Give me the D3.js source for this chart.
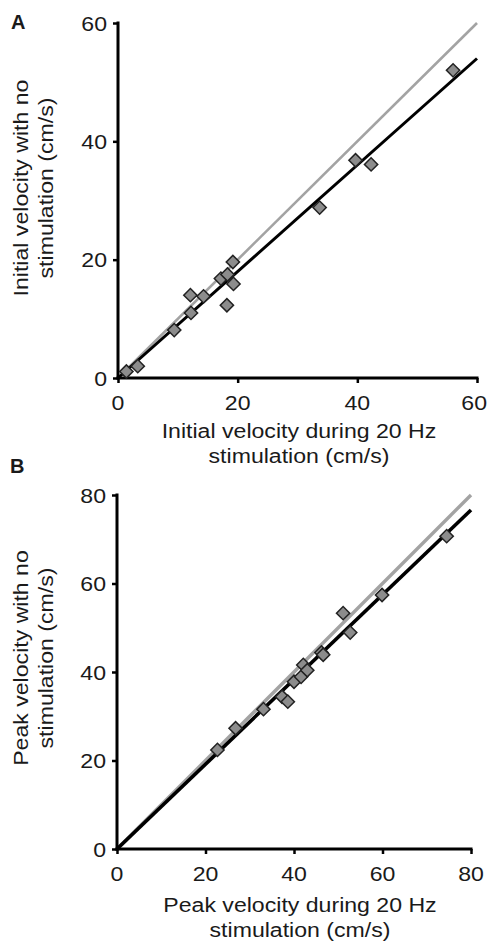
<!DOCTYPE html>
<html>
<head>
<meta charset="utf-8">
<script src="https://cdn.jsdelivr.net/npm/d3@7"></script>
<style>
  html, body { margin: 0; padding: 0; background: #fff; }
  svg { display: block; }
  text { font-family: "Liberation Sans", Arial, sans-serif; fill: #1a1a1a; }
</style>
</head>
<body>
<svg id="chart" width="488" height="943"></svg>
<script>
// ---------- Data ----------
// Panel A: initial velocity (cm/s)
const initialDuring20Hz = [1.4, 3.3, 9.4, 12.2, 12.1, 14.3, 17.2, 18.3, 19.2, 19.3, 18.2, 33.7, 39.7, 42.3, 56.0];
const initialNoStim     = [1.1, 2.0, 8.1, 11.0, 14.0, 13.8, 16.8, 17.5, 19.6, 15.9, 12.3, 28.8, 36.8, 36.1, 52.0];
const initialFit   = [[0, 0], [60, 54.0]];
const initialUnity = [[0, 0], [60, 60]];
const initialTicks = [0, 20, 40, 60];

// Panel B: peak velocity (cm/s)
const peakDuring20Hz = [22.7, 26.8, 33.1, 37.3, 38.6, 40.0, 41.6, 42.1, 43.0, 46.2, 46.6, 51.1, 52.7, 59.9, 74.5];
const peakNoStim     = [22.4, 27.3, 31.6, 34.4, 33.3, 37.8, 38.9, 41.6, 40.4, 44.4, 43.9, 53.3, 48.9, 57.4, 70.7];
const peakFit   = [[0, 0], [80, 76.6]];
const peakUnity = [[0, 0], [80, 80]];
const peakTicks = [0, 20, 40, 60, 80];

const panels = [
  {
    letter: "A", letterPos: [11, 29],
    xs: initialDuring20Hz, ys: initialNoStim, fit: initialFit, unity: initialUnity,
    ticks: initialTicks, max: 60,
    xRange: [118, 477], yRange: [378, 23],
    xTitle: ["Initial velocity during 20 Hz", "stimulation (cm/s)"], xTitlePos: [299, 438],
    yTitle: ["Initial velocity with no", "stimulation (cm/s)"], yTitlePos: [28, 188],
    lineW: 3, unityW: 2.6
  },
  {
    letter: "B", letterPos: [10, 473],
    xs: peakDuring20Hz, ys: peakNoStim, fit: peakFit, unity: peakUnity,
    ticks: peakTicks, max: 80,
    xRange: [117, 471], yRange: [849, 495],
    xTitle: ["Peak velocity during 20 Hz", "stimulation (cm/s)"], xTitlePos: [300, 912],
    yTitle: ["Peak velocity with no", "stimulation (cm/s)"], yTitlePos: [28, 658],
    lineW: 3.6, unityW: 3.4
  }
];

const W = 488;
const svg = d3.select("#chart");
const FS = 21, STRETCH = 1.1, LINE = 24.5;

function label(g, str, x, y, rot, anchor, opts = {}) {
  return g.append("text")
    .attr("transform", `translate(${x},${y}) rotate(${rot}) scale(${STRETCH},1)`)
    .attr("text-anchor", anchor)
    .attr("font-size", opts.size || FS)
    .attr("font-weight", opts.weight || "normal")
    .attr("dy", opts.dy || 0)
    .text(str);
}

panels.forEach(p => {
  const g = svg.append("g");
  const x = d3.scaleLinear().domain([0, p.max]).range(p.xRange);
  const y = d3.scaleLinear().domain([0, p.max]).range(p.yRange);

  // reference lines
  const line = d3.line().x(d => x(d[0])).y(d => y(d[1]));
  g.append("path").datum(p.unity).attr("d", line)
    .attr("stroke", "#a3a3a3").attr("stroke-width", p.unityW).attr("fill", "none");
  g.append("path").datum(p.fit).attr("d", line)
    .attr("stroke", "#000").attr("stroke-width", p.lineW).attr("fill", "none");

  // axes (ticks from d3 axes)
  const xAxis = d3.axisBottom(x).tickValues(p.ticks).tickSize(5).tickPadding(0).tickFormat(d3.format("d"));
  const yAxis = d3.axisLeft(y).tickValues(p.ticks).tickSize(5).tickPadding(0).tickFormat(d3.format("d"));

  const gx = g.append("g").attr("transform", `translate(0,${p.yRange[0]})`).call(xAxis);
  const gy = g.append("g").attr("transform", `translate(${p.xRange[0]},0)`).call(yAxis);
  [gx, gy].forEach(a => {
    a.select(".domain").remove();
    a.selectAll(".tick line").attr("stroke", "#000").attr("stroke-width", 2.5);
    a.selectAll(".tick text").remove();
  });
  // axis lines
  g.append("line").attr("x1", x(0) - 1.5).attr("x2", x(p.max) + 1.5)
    .attr("y1", y(0)).attr("y2", y(0)).attr("stroke", "#000").attr("stroke-width", 3);
  g.append("line").attr("x1", x(0)).attr("x2", x(0))
    .attr("y1", y(0) + 1.5).attr("y2", y(p.max) - 1.5).attr("stroke", "#000").attr("stroke-width", 3);

  // tick labels (slightly wide lettering like the original)
  p.ticks.forEach(t => {
    const s = d3.format("d")(t);
    const half = s.length * 0.556 * FS * STRETCH / 2;
    const cx = Math.min(x(t), W - 1 - half);
    label(g, s, cx, y(0) + 32, 0, "middle");
    label(g, s, x(0) - 11, y(t), 0, "end", { dy: "0.36em" });
  });

  // points (diamonds)
  const diamond = d3.symbol().type(d3.symbolSquare).size(88);
  g.selectAll("path.pt").data(p.xs.map((v, i) => [v, p.ys[i]])).enter()
    .append("path").attr("class", "pt")
    .attr("d", diamond)
    .attr("transform", d => `translate(${x(d[0])},${y(d[1])}) rotate(45)`)
    .attr("fill", "#8c8c8c").attr("stroke", "#222").attr("stroke-width", 1.5);

  // titles
  p.xTitle.forEach((s, i) => label(g, s, p.xTitlePos[0], p.xTitlePos[1] + i * LINE, 0, "middle"));
  p.yTitle.forEach((s, i) => label(g, s, p.yTitlePos[0] + i * LINE, p.yTitlePos[1], -90, "middle"));

  // panel letter
  g.append("text").attr("x", p.letterPos[0]).attr("y", p.letterPos[1])
    .attr("font-size", 20).attr("font-weight", "bold").attr("fill", "#000").text(p.letter);
});
</script>
</body>
</html>
